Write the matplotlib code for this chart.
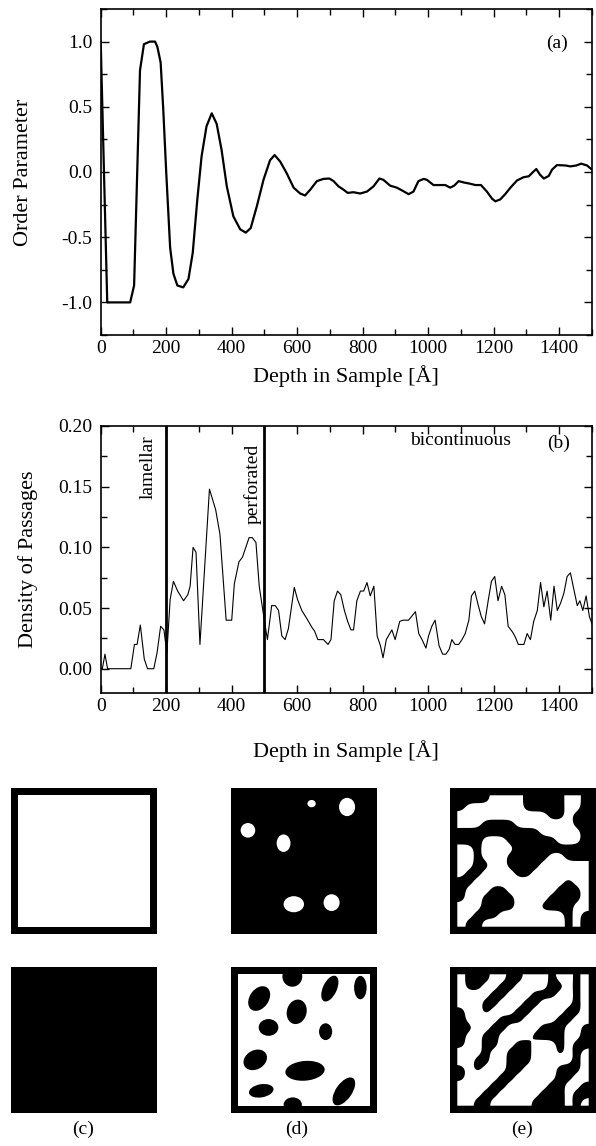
import numpy as np
import matplotlib
matplotlib.use("Agg")
import matplotlib.pyplot as plt
from matplotlib.patches import Rectangle, Ellipse
from matplotlib.ticker import MultipleLocator, FormatStrFormatter

plt.rcParams['font.family'] = ['Liberation Serif', 'DejaVu Serif']
plt.rcParams['axes.unicode_minus'] = False

# (a) order parameter vs depth
depth_a = [0, 10, 20, 50, 90, 102, 120, 132, 150, 166, 173, 183, 191, 200, 212, 222, 234,
           252, 268, 281, 295, 308, 323, 339, 354, 369, 385, 405, 426, 443, 458, 477, 497,
           517, 531, 548, 568, 589, 609, 624, 640, 660, 680, 698, 711, 726, 741, 754, 772,
           792, 813, 833, 851, 863, 884, 904, 919, 940, 955, 970, 986, 996, 1016, 1037,
           1052, 1067, 1079, 1093, 1108, 1128, 1144, 1161, 1179, 1195, 1205, 1220, 1235,
           1251, 1271, 1291, 1307, 1320, 1330, 1341, 1353, 1368, 1378, 1393, 1419, 1434,
           1452, 1467, 1485, 1500]
order = [1.0, 0.0, -1.0, -1.0, -1.0, -0.87, 0.78, 0.98, 1.0, 1.0, 0.96, 0.84, 0.48, 0.0,
         -0.58, -0.78, -0.87, -0.885, -0.82, -0.62, -0.21, 0.12, 0.35, 0.45, 0.37, 0.17,
         -0.11, -0.34, -0.44, -0.465, -0.43, -0.26, -0.06, 0.09, 0.13, 0.08, -0.01, -0.12,
         -0.165, -0.18, -0.135, -0.07, -0.053, -0.05, -0.07, -0.11, -0.135, -0.16, -0.155,
         -0.165, -0.15, -0.11, -0.05, -0.06, -0.105, -0.12, -0.14, -0.17, -0.15, -0.07,
         -0.053, -0.06, -0.10, -0.10, -0.10, -0.12, -0.105, -0.07, -0.08, -0.09, -0.10,
         -0.10, -0.15, -0.205, -0.225, -0.21, -0.17, -0.12, -0.065, -0.04, -0.033, 0.0,
         0.023, -0.02, -0.05, -0.03, 0.018, 0.053, 0.05, 0.043, 0.05, 0.064, 0.05, 0.018]

# (b) density of passages vs depth
depth_b = [0, 5, 13, 21, 50, 92, 103, 111, 121, 133, 143, 162, 172, 183, 193, 202, 212, 222,
           235, 253, 266, 273, 282, 291, 303, 332, 351, 364, 383, 400, 408, 422, 433, 453,
           463, 474, 484, 499, 509, 522, 533, 543, 553, 563, 573, 591, 601, 614, 630, 645,
           653, 663, 680, 694, 703, 713, 723, 733, 744, 754, 764, 772, 782, 793, 803, 813,
           823, 834, 844, 854, 862, 872, 889, 899, 913, 923, 940, 961, 971, 981, 993, 1001,
           1011, 1021, 1033, 1044, 1054, 1064, 1072, 1082, 1093, 1103, 1113, 1124, 1132,
           1142, 1152, 1162, 1172, 1183, 1193, 1203, 1213, 1224, 1234, 1244, 1258, 1266,
           1275, 1292, 1302, 1312, 1322, 1333, 1343, 1353, 1363, 1374, 1384, 1394, 1404,
           1414, 1424, 1434, 1445, 1455, 1463, 1472, 1482, 1492, 1500]
passages = [0.0, 0.0, 0.012, 0.0, 0.0, 0.0, 0.02, 0.02, 0.036, 0.008, 0.0, 0.0, 0.013, 0.035,
            0.032, 0.013, 0.057, 0.072, 0.064, 0.056, 0.061, 0.068, 0.10, 0.096, 0.02, 0.148,
            0.131, 0.111, 0.040, 0.040, 0.07, 0.088, 0.092, 0.108, 0.108, 0.104, 0.068,
            0.041, 0.024, 0.052, 0.052, 0.048, 0.027, 0.024, 0.033, 0.067, 0.057, 0.048,
            0.041, 0.034, 0.031, 0.024, 0.024, 0.020, 0.024, 0.056, 0.064, 0.061, 0.048,
            0.039, 0.032, 0.032, 0.056, 0.064, 0.064, 0.071, 0.060, 0.068, 0.027, 0.019,
            0.009, 0.024, 0.032, 0.024, 0.039, 0.040, 0.040, 0.047, 0.029, 0.024, 0.017,
            0.027, 0.035, 0.040, 0.019, 0.012, 0.012, 0.016, 0.024, 0.020, 0.020, 0.024,
            0.029, 0.040, 0.060, 0.064, 0.053, 0.043, 0.037, 0.056, 0.072, 0.076, 0.056,
            0.068, 0.061, 0.035, 0.030, 0.026, 0.020, 0.020, 0.029, 0.024, 0.039, 0.048,
            0.071, 0.051, 0.064, 0.040, 0.068, 0.048, 0.054, 0.062, 0.076, 0.079, 0.065,
            0.052, 0.056, 0.048, 0.060, 0.043, 0.037]

phase_bounds = [200, 500]
phase_names = ['lamellar', 'perforated', 'bicontinuous']

# (d) isolated blobs: (u, v, width, height, angle) in unit square, v measured upward
holes_d_top = [(0.552, 0.893, 0.057, 0.050, 0), (0.795, 0.870, 0.110, 0.125, 0),
               (0.116, 0.710, 0.100, 0.100, 0), (0.360, 0.622, 0.095, 0.120, 0),
               (0.430, 0.204, 0.140, 0.110, 0), (0.689, 0.215, 0.110, 0.115, 0)]
blobs_d_bot = [(0.420, 0.935, 0.136, 0.140, 0), (0.677, 0.852, 0.095, 0.190, -25),
               (0.886, 0.859, 0.086, 0.160, 0), (0.193, 0.784, 0.130, 0.185, -35),
               (0.450, 0.693, 0.135, 0.170, -15), (0.257, 0.586, 0.135, 0.115, 0),
               (0.648, 0.557, 0.090, 0.115, 0), (0.166, 0.364, 0.170, 0.130, 30),
               (0.507, 0.289, 0.270, 0.135, 5), (0.207, 0.152, 0.170, 0.090, 10),
               (0.423, 0.057, 0.125, 0.100, 0), (0.773, 0.148, 0.110, 0.220, -35)]

# (e) bicontinuous maps, 1 = white, top row first
maze_e_top = ["0000111100000110",
              "0111111100000110",
              "1111111111100100",
              "1110000111111100",
              "0000000000111110",
              "0001110000001110",
              "1101111000000000",
              "1101110000011000",
              "1100110000111111",
              "1001111001111111",
              "0011111111111011",
              "0111001111110001",
              "0110000111100001",
              "1110000111000011",
              "1100011111111010",
              "1001111111111010"]
maze_e_bot = ["1000110011101101",
              "1001100111100101",
              "1111001110001101",
              "1110011100111101",
              "0110111001111001",
              "0111100011110011",
              "0011001111000110",
              "0110011110000110",
              "0110011001110100",
              "1110110001110101",
              "1100110001111101",
              "0101110011110001",
              "0111100111110011",
              "1111001111100110",
              "1110011111000100",
              "1100111110000101"]

W, H = 596, 1146
fig = plt.figure(figsize=(W / 100, H / 100), dpi=100)


def style_axis(ax, ymaj, ymin, fmt):
    ax.set_xlim(0, 1500)
    ax.xaxis.set_major_locator(MultipleLocator(200))
    ax.xaxis.set_minor_locator(MultipleLocator(100))
    ax.yaxis.set_major_locator(MultipleLocator(ymaj))
    ax.yaxis.set_minor_locator(MultipleLocator(ymin))
    ax.yaxis.set_major_formatter(FormatStrFormatter(fmt))
    ax.tick_params(which='both', direction='in', top=True, right=True, labelsize=14,
                   width=1.0)
    ax.tick_params(which='major', length=6)
    ax.tick_params(which='minor', length=4)
    ax.tick_params(axis='y', pad=6)
    for s in ax.spines.values():
        s.set_linewidth(1.2)


def fig_box(x0, y0, x1, y1):
    return [x0 / W, 1 - y1 / H, (x1 - x0) / W, (y1 - y0) / H]


# panel (a)
ax1 = fig.add_axes(fig_box(100.7, 9, 592, 335))
ax1.plot(depth_a, order, color='black', lw=1.6)
ax1.set_ylim(-1.25, 1.25)
style_axis(ax1, 0.5, 0.25, '%.1f')
ax1.set_xlabel('Depth in Sample [Å]', fontsize=16, labelpad=6)
ax1.set_ylabel('Order Parameter', fontsize=16)
ax1.yaxis.set_label_coords(-0.138, 0.5)
ax1.text(1394, 0.99, '(a)', fontsize=14, ha='center', va='center')

# panel (b)
ax2 = fig.add_axes(fig_box(100.7, 426, 592, 693))
ax2.plot(depth_b, passages, color='black', lw=0.8)
for xb in phase_bounds:
    ax2.axvline(xb, color='black', lw=2.0)
ax2.set_ylim(-0.02, 0.20)
style_axis(ax2, 0.05, 0.025, '%.2f')
ax2.set_xlabel('Depth in Sample [Å]', fontsize=16, labelpad=18)
ax2.set_ylabel('Density of Passages', fontsize=16)
ax2.yaxis.set_label_coords(-0.128, 0.5)
ax2.text(145, 0.166, phase_names[0], rotation=90, fontsize=14, ha='center', va='center')
ax2.text(463, 0.152, phase_names[1], rotation=90, fontsize=14, ha='center', va='center')
ax2.text(1098, 0.188, phase_names[2], fontsize=14, ha='center', va='center')
ax2.text(1397, 0.186, '(b)', fontsize=14, ha='center', va='center')

# morphology snapshots
frame = 0.05
cols = [11, 231, 450]
rows = [788, 967]
size = 146
label_x = [83, 297, 522]


def snapshot(x0, y0):
    ax = fig.add_axes(fig_box(x0, y0, x0 + size, y0 + size))
    ax.set_xlim(0, 1)
    ax.set_ylim(0, 1)
    ax.axis('off')
    ax.add_patch(Rectangle((0, 0), 1, 1, color='black', lw=0))
    return ax


def white_core(ax):
    ax.add_patch(Rectangle((frame, frame), 1 - 2 * frame, 1 - 2 * frame,
                           color='white', lw=0))


def add_blobs(ax, blobs, color):
    for u, v, w, h, ang in blobs:
        ax.add_patch(Ellipse((u, v), w, h, angle=ang, color=color, lw=0))


def smooth(a, sigma):
    # separable gaussian blur so the cell map renders with rounded edges
    r = int(3 * sigma)
    k = np.exp(-0.5 * (np.arange(-r, r + 1) / sigma) ** 2)
    k /= k.sum()
    a = np.pad(a, r, mode='edge')
    a = np.apply_along_axis(lambda v: np.convolve(v, k, mode='same'), 0, a)
    a = np.apply_along_axis(lambda v: np.convolve(v, k, mode='same'), 1, a)
    return a[r:-r, r:-r]


def add_maze(ax, rows_txt, up=10):
    grid = np.array([[int(c) for c in r] for r in rows_txt], dtype=float)[::-1]
    fine = smooth(np.kron(grid, np.ones((up, up))), 0.55 * up)
    xs = np.linspace(frame, 1 - frame, fine.shape[1])
    ys = np.linspace(frame, 1 - frame, fine.shape[0])
    ax.contourf(xs, ys, fine, levels=[0.5, 2.0], colors=['white'], antialiased=True)


# (c) lamellar: white layer / black layer
ax = snapshot(cols[0], rows[0])
white_core(ax)
snapshot(cols[0], rows[1])

# (d) perforated
ax = snapshot(cols[1], rows[0])
add_blobs(ax, holes_d_top, 'white')
ax = snapshot(cols[1], rows[1])
white_core(ax)
add_blobs(ax, blobs_d_bot, 'black')

# (e) bicontinuous
ax = snapshot(cols[2], rows[0])
add_maze(ax, maze_e_top)
ax = snapshot(cols[2], rows[1])
add_maze(ax, maze_e_bot)

for lx, lab in zip(label_x, ['(c)', '(d)', '(e)']):
    fig.text(lx / W, 1 - 1129 / H, lab, fontsize=14, ha='center', va='center')

fig.savefig('out.png', dpi=100)
